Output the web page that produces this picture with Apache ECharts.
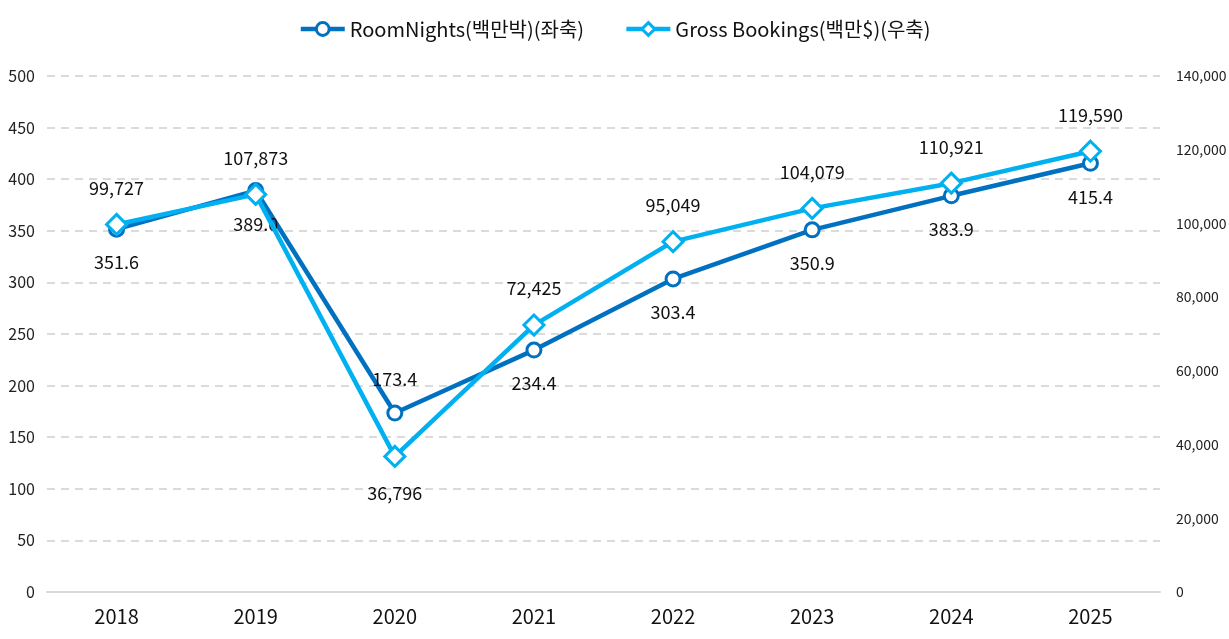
<!DOCTYPE html>
<html>
<head>
<meta charset="utf-8">
<script src="https://cdn.jsdelivr.net/npm/echarts@6/dist/echarts.min.js"></script>
<style>
html,body{margin:0;padding:0;background:#fff;}
#chart{width:1229px;height:639px;}
</style>
</head>
<body>
<div id="chart"></div>
<script>
const categories = ['2018','2019','2020','2021','2022','2023','2024','2025'];
const roomNights = [351.6, 389.0, 173.4, 234.4, 303.4, 350.9, 383.9, 415.4];
const grossBookings = [99727, 107873, 36796, 72425, 95049, 104079, 110921, 119590];
const leftTicks = [0, 500, 50];
const rightTicks = [0, 140000, 20000];
const seriesNames = ['RoomNights(백만박)(좌축)', 'Gross Bookings(백만$)(우축)'];

const FONT = '"Noto Sans CJK KR", "Noto Sans", sans-serif';
const chart = echarts.init(document.getElementById('chart'));
const rnLabelPos = roomNights.map((v, i) => i === 2 ? 'top' : 'bottom');
const gbLabelPos = grossBookings.map((v, i) => i === 2 ? 'bottom' : 'top');

chart.setOption({
  animation: false,
  textStyle: {fontFamily: FONT},
  legend: {
    top: 14, left: 'center', itemWidth: 44, itemHeight: 16, itemGap: 40,
    lineStyle: {width: 4.5},
    itemStyle: {borderWidth: 3},
    textStyle: {fontFamily: FONT, fontSize: 20, color: '#111'}
  },
  grid: {left: 47, right: 69, top: 76, bottom: 47, containLabel: false, outerBoundsMode: 'none'},
  xAxis: {
    type: 'category', data: categories, boundaryGap: true,
    axisLine: {lineStyle: {color: '#d9d9d9', width: 2}},
    axisTick: {show: false},
    axisLabel: {fontFamily: FONT, fontSize: 20, color: '#111', margin: 14}
  },
  yAxis: [{
    type: 'value', min: leftTicks[0], max: leftTicks[1], interval: leftTicks[2],
    axisLine: {show: false}, axisTick: {show: false},
    splitLine: {lineStyle: {color: '#d0d0d0', type: [8, 6], width: 1.5}},
    axisLabel: {fontFamily: FONT, fontSize: 16, color: '#222', margin: 12}
  }, {
    type: 'value', min: rightTicks[0], max: rightTicks[1], interval: rightTicks[2],
    axisLine: {show: false}, axisTick: {show: false}, splitLine: {show: false},
    axisLabel: {fontFamily: FONT, fontSize: 14, color: '#222', margin: 16,
      formatter: v => v.toLocaleString('en-US')}
  }],
  series: [{
    name: seriesNames[0], type: 'line', yAxisIndex: 0,
    data: roomNights.map((v, i) => ({value: v, label: {position: rnLabelPos[i]}})),
    symbol: 'circle', symbolSize: 14, showAllSymbol: true,
    lineStyle: {color: '#0070C0', width: 4.5},
    itemStyle: {color: '#fff', borderColor: '#0070C0', borderWidth: 3},
    label: {show: true, fontFamily: FONT, fontSize: 18, color: '#111', distance: 16,
      formatter: p => p.value.toFixed(1)},
    z: 3
  }, {
    name: seriesNames[1], type: 'line', yAxisIndex: 1,
    data: grossBookings.map((v, i) => ({value: v, label: {position: gbLabelPos[i]}})),
    symbol: 'diamond', symbolSize: 20, showAllSymbol: true,
    lineStyle: {color: '#00B0F0', width: 4.5},
    itemStyle: {color: '#fff', borderColor: '#00B0F0', borderWidth: 3},
    label: {show: true, fontFamily: FONT, fontSize: 18, color: '#111', distance: 16,
      formatter: p => p.value.toLocaleString('en-US')},
    z: 4
  }]
});
</script>
</body>
</html>
